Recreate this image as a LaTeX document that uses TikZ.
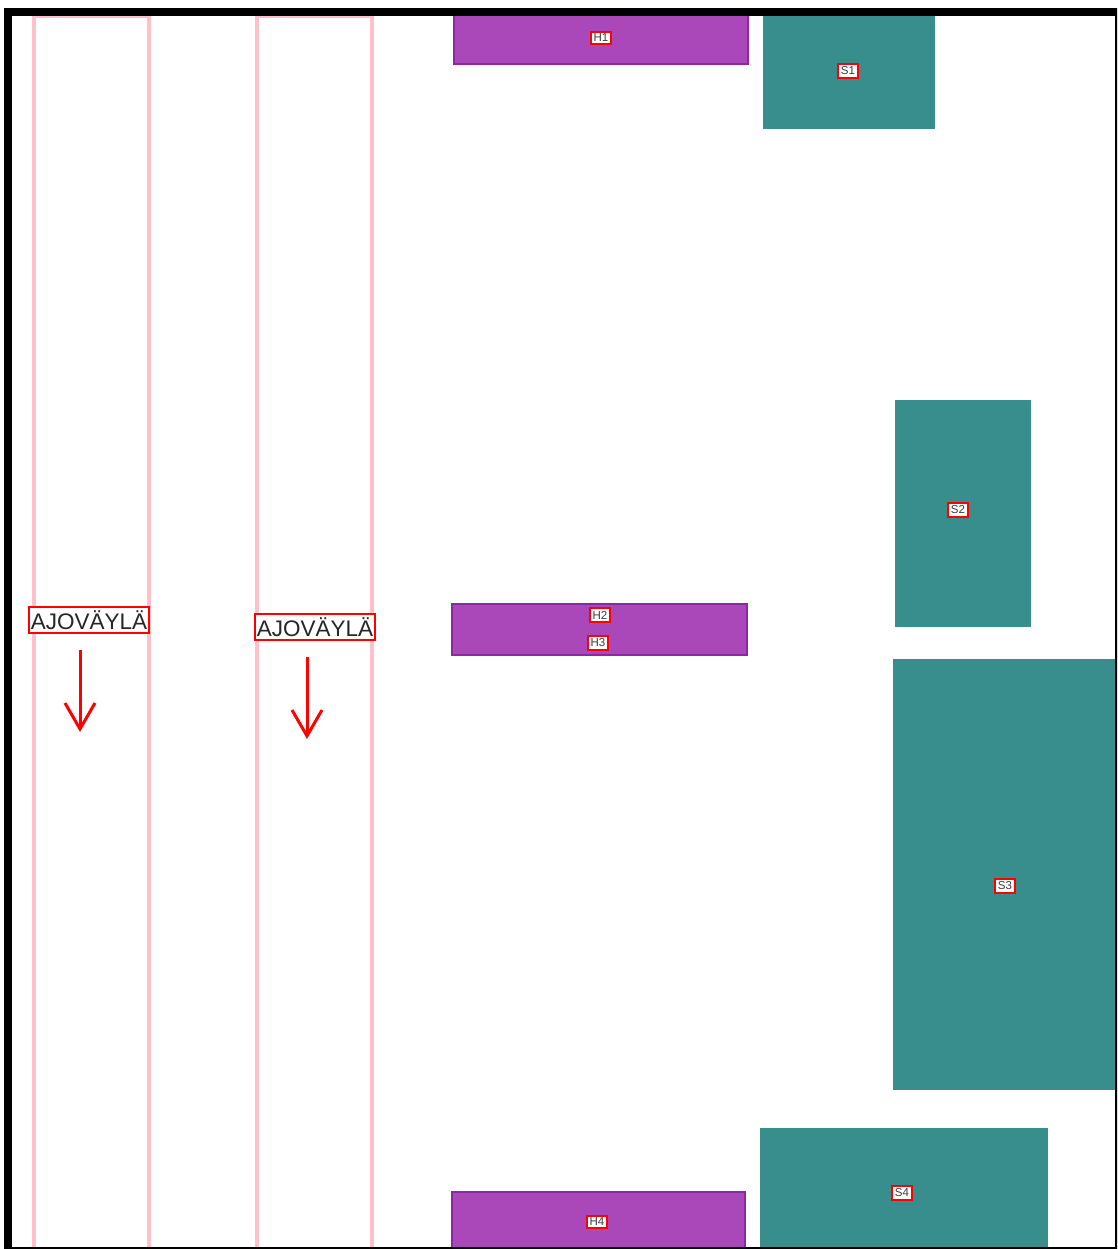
\documentclass[tikz,border=0pt]{standalone}
\usepackage{fontspec}
\setmainfont{Liberation Sans}
\usepackage{tikz}
\usetikzlibrary{arrows.meta}
\definecolor{hallpurple}{RGB}{170,72,186}
\definecolor{halledge}{RGB}{140,40,165}
\definecolor{storeteal}{RGB}{56,141,141}
\definecolor{lanepink}{RGB}{255,192,203}
\definecolor{tagtext}{RGB}{60,60,60}

\begin{document}
\begin{tikzpicture}[x=1pt,y=-1pt,
  lane/.style={draw=lanepink,line width=3.5pt},
  hall/.style={fill=hallpurple,draw=halledge,line width=1.5pt},
  store/.style={fill=storeteal},
  tag/.style={draw=red,fill=white,line width=2pt,inner xsep=2.5pt,inner ysep=2.5pt,text=tagtext,font=\fontsize{11.5}{11.5}\selectfont},
  bigtag/.style={draw=red,fill=white,line width=2pt,inner xsep=1.5pt,inner ysep=3pt,text=black!85,font=\fontsize{22.5}{22.5}\selectfont},
  dirarrow/.style={draw=red,line width=3pt,-{Straight Barb[length=26pt,width=30pt,line width=3pt]}}]
\useasboundingbox (0,0) rectangle (1117,1249);
\clip (0,0) rectangle (1117,1249);
\fill[white] (0,0) rectangle (1117,1249);
% ajoväylät
\draw[lane] (34,16.5) rectangle (149,1256);
\draw[lane] (257,16.5) rectangle (372,1256);
\node[bigtag] (A1) at (89,620) {AJOVÄYLÄ};
\node[bigtag] (A2) at (315,627) {AJOVÄYLÄ};
\coordinate (A1s) at (80,650);
\coordinate (A1e) at (80,732);
\coordinate (A2s) at (307,657);
\coordinate (A2e) at (307,739);
\draw[dirarrow] (A1s) -- (A1e);
\draw[dirarrow] (A2s) -- (A2e);
% hyllyt
\draw[hall] (454,10) rectangle (748,64);
\draw[hall] (452,604) rectangle (747,655);
\draw[hall] (452,1192) rectangle (745,1252);
\node[tag] (H1) at (601,38) {H1};
\node[tag] (H2) at (600,615) {H2};
\node[tag] (H3) at (598,643) {H3};
\node[tag] (H4) at (597,1222) {H4};
% varastot
\fill[store] (763,12) rectangle (935,129);
\fill[store] (895,400) rectangle (1031,627);
\fill[store] (893,659) rectangle (1117,1090);
\fill[store] (760,1128) rectangle (1048,1249);
\node[tag] (S1) at (848,71) {S1};
\node[tag] (S2) at (958,510) {S2};
\node[tag] (S3) at (1005,886) {S3};
\node[tag] (S4) at (902,1193) {S4};
% kehys
\draw[line width=8pt] (8,12) rectangle (1119,1250.5);
\end{tikzpicture}
\end{document}
